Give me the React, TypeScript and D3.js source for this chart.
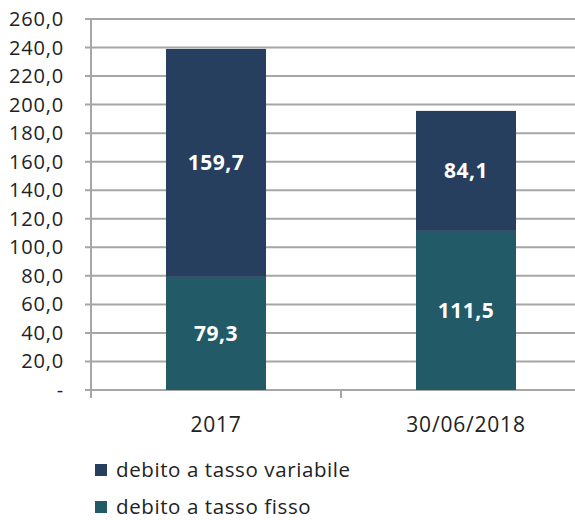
import React from 'react'
import * as d3 from 'd3'

const categories = ['2017', '30/06/2018']
const fisso = [79.3, 111.5]
const variabile = [159.7, 84.1]
const seriesNames = ['debito a tasso variabile', 'debito a tasso fisso']
const yTicks = [0, 20, 40, 60, 80, 100, 120, 140, 160, 180, 200, 220, 240, 260]

const colors = { variabile: '#263F5E', fisso: '#225A68' }
const font = "'Open Sans', 'Noto Sans', sans-serif"

function fmt(v: number) {
  return v === 0 ? '-' : v.toFixed(1).replace('.', ',')
}

export default function App() {
  const width = 575
  const height = 520
  const left = 91
  const right = 591
  const top = 19
  const bottom = 390

  const x = d3.scaleBand().domain(categories).range([left, right]).paddingInner(0.6).paddingOuter(0.3)
  const band = d3.scaleBand().domain(categories).range([left, right])
  const y = d3.scaleLinear().domain([0, 260]).range([bottom, top])

  const stacked = categories.map((c, i) => ({
    cat: c,
    segs: [
      { key: 'fisso', y0: 0, y1: fisso[i], v: fisso[i], color: colors.fisso },
      { key: 'variabile', y0: fisso[i], y1: fisso[i] + variabile[i], v: variabile[i], color: colors.variabile },
    ],
  }))

  return (
    <svg width={width} height={height} style={{ position: 'absolute', left: 0, top: 0, background: '#fff' }}>
      {yTicks.map(t => (
        <g key={t}>
          <line x1={left - 6} x2={right} y1={y(t)} y2={y(t)} stroke="#A6A6A6" strokeWidth={2} />
          <text x={64} y={y(t)} dy="0.35em" textAnchor="end" fontSize={20} letterSpacing={0.8}
            fontFamily={font} fill="#222">
            {fmt(t)}
          </text>
        </g>
      ))}
      <line x1={left} x2={left} y1={top} y2={bottom + 8} stroke="#A6A6A6" strokeWidth={2} />
      {categories.map(c => (
        <line key={c} x1={band(c)! + band.bandwidth()} x2={band(c)! + band.bandwidth()} y1={bottom} y2={bottom + 8}
          stroke="#A6A6A6" strokeWidth={2} />
      ))}
      {stacked.map(d => (
        <g key={d.cat}>
          {d.segs.map(s => (
            <g key={s.key}>
              <rect x={x(d.cat)} width={x.bandwidth()} y={y(s.y1)} height={y(s.y0) - y(s.y1)} fill={s.color} />
              <text x={x(d.cat)! + x.bandwidth() / 2} y={(y(s.y0) + y(s.y1)) / 2} dy="0.35em" textAnchor="middle"
                fontSize={21} fontWeight="bold" letterSpacing={0.5} fontFamily={font} fill="#fff">
                {fmt(s.v)}
              </text>
            </g>
          ))}
          <text x={x(d.cat)! + x.bandwidth() / 2} y={432} textAnchor="middle" fontSize={21} letterSpacing={0.8}
            fontFamily={font} fill="#222">
            {d.cat}
          </text>
        </g>
      ))}
      {seriesNames.map((n, i) => (
        <g key={n} transform={`translate(95, ${470 + i * 37})`}>
          <rect x={0} y={-6} width={12} height={12} fill={i === 0 ? colors.variabile : colors.fisso} />
          <text x={21} y={0} dy="0.35em" fontSize={20.5} letterSpacing={0.6} fontFamily={font} fill="#222">{n}</text>
        </g>
      ))}
    </svg>
  )
}
